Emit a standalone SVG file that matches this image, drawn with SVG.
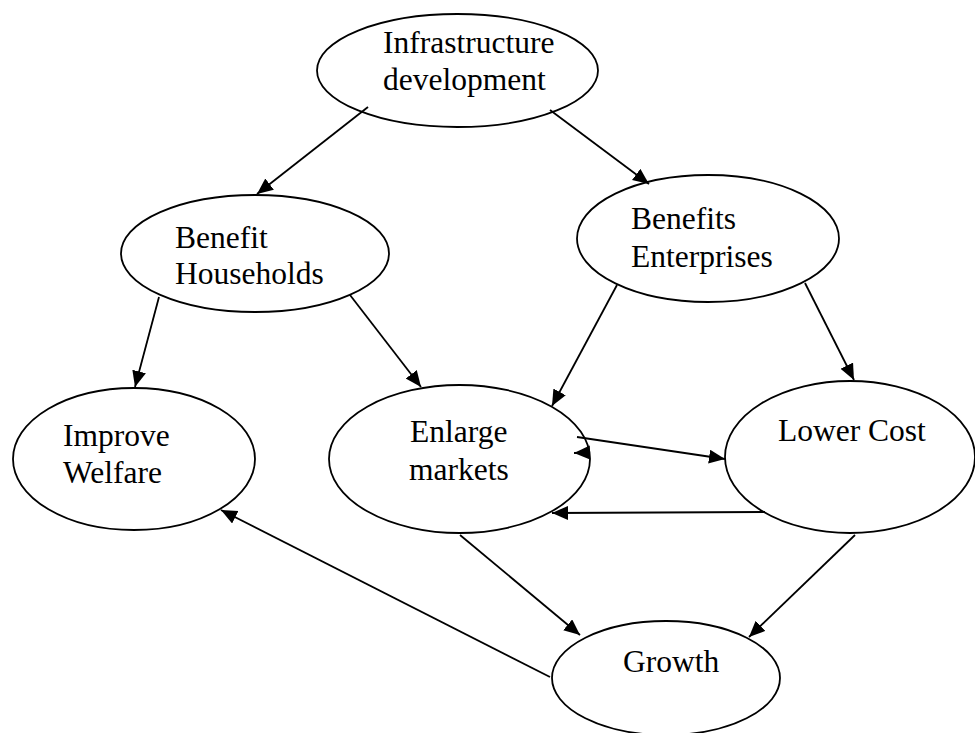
<svg xmlns="http://www.w3.org/2000/svg" width="975" height="733" viewBox="0 0 975 733">
<defs>
<marker id="arr" markerUnits="userSpaceOnUse" markerWidth="18" markerHeight="16" refX="16" refY="7" orient="auto">
<path d="M0,0 L16,7 L0,14 z" fill="#000"/>
</marker>
<style>
.n ellipse{fill:#fff;stroke:#000;stroke-width:1.8}
.n text{font-family:"Liberation Serif","Times New Roman",serif;font-size:31.5px;fill:#000}
#connectors line{stroke:#000;stroke-width:1.8;marker-end:url(#arr)}
</style>
</defs>
<rect width="975" height="733" fill="#fff"/>
<g id="nodes">
<g id="infra" class="n"><ellipse cx="457.5" cy="70.5" rx="140.5" ry="56.5"/><text x="383" y="53">Infrastructure</text><text x="383" y="90">development</text></g>
<g id="households" class="n"><ellipse cx="255" cy="253.5" rx="134" ry="58.5"/><text x="175" y="248">Benefit</text><text x="175" y="284">Households</text></g>
<g id="enterprises" class="n"><ellipse cx="708" cy="238.5" rx="131" ry="63.5"/><text x="631" y="229">Benefits</text><text x="631" y="267">Enterprises</text></g>
<g id="welfare" class="n"><ellipse cx="134" cy="459" rx="121" ry="71"/><text x="63" y="446">Improve</text><text x="63" y="483">Welfare</text></g>
<g id="enlarge" class="n"><ellipse cx="459.5" cy="459" rx="130.5" ry="74"/><text x="410" y="442">Enlarge</text><text x="409" y="480">markets</text></g>
<g id="lower" class="n"><ellipse cx="850" cy="457" rx="125" ry="76"/><text x="778" y="441">Lower Cost</text></g>
<g id="growth" class="n"><ellipse cx="666" cy="678" rx="114" ry="57"/><text x="623" y="672">Growth</text></g>
</g>
<g id="connectors">
<line x1="368" y1="107" x2="257" y2="194"/>
<line x1="550" y1="110" x2="649" y2="184"/>
<line x1="159" y1="297" x2="135" y2="387"/>
<line x1="350" y1="295" x2="421" y2="387"/>
<line x1="617" y1="285" x2="552" y2="406"/>
<line x1="805" y1="283" x2="854" y2="380"/>
<line x1="577" y1="437" x2="725" y2="459"/>
<line x1="590" y1="452.5" x2="574" y2="453"/>
<line x1="765" y1="512" x2="552" y2="513"/>
<line x1="460" y1="535" x2="580" y2="635"/>
<line x1="855" y1="535" x2="749" y2="637"/>
<line x1="550" y1="677" x2="221" y2="510"/>
</g>
</svg>
